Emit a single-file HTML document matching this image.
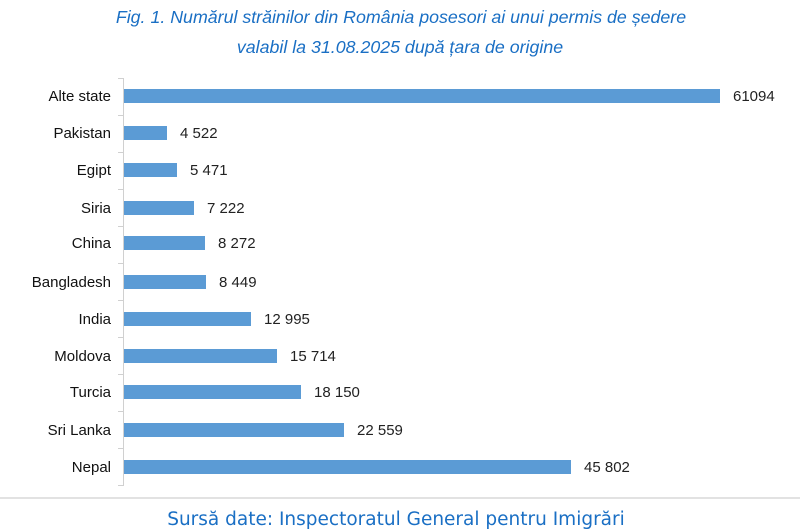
<!DOCTYPE html>
<html><head><meta charset="utf-8"><style>
body{margin:0;background:#fff;}
svg{display:block;}
</style></head><body>
<svg width="800" height="531" xmlns="http://www.w3.org/2000/svg">
<g font-family="Liberation Sans, DejaVu Sans, sans-serif" font-style="italic" font-size="17.8" fill="#1a6fc4" text-anchor="middle">
<text x="401" y="23">Fig. 1. Numărul străinilor din România posesori ai unui permis de ședere</text>
<text x="400" y="53">valabil la 31.08.2025 după țara de origine</text>
</g>
<line x1="123.5" y1="78" x2="123.5" y2="486" stroke="#d0d0d0" stroke-width="1"/>
<g stroke="#d0d0d0">
<line x1="118" y1="78.5" x2="123" y2="78.5"/><line x1="118" y1="115.5" x2="123" y2="115.5"/><line x1="118" y1="152.5" x2="123" y2="152.5"/><line x1="118" y1="189.5" x2="123" y2="189.5"/><line x1="118" y1="226.5" x2="123" y2="226.5"/><line x1="118" y1="263.5" x2="123" y2="263.5"/><line x1="118" y1="300.5" x2="123" y2="300.5"/><line x1="118" y1="337.5" x2="123" y2="337.5"/><line x1="118" y1="374.5" x2="123" y2="374.5"/><line x1="118" y1="411.5" x2="123" y2="411.5"/><line x1="118" y1="448.5" x2="123" y2="448.5"/><line x1="118" y1="485.5" x2="123" y2="485.5"/>
</g>
<g fill="#5b9bd5">
<rect x="124" y="89" width="596" height="14"/>
<rect x="124" y="126" width="43" height="14"/>
<rect x="124" y="163" width="53" height="14"/>
<rect x="124" y="201" width="70" height="14"/>
<rect x="124" y="236" width="81" height="14"/>
<rect x="124" y="275" width="82" height="14"/>
<rect x="124" y="312" width="127" height="14"/>
<rect x="124" y="349" width="153" height="14"/>
<rect x="124" y="385" width="177" height="14"/>
<rect x="124" y="423" width="220" height="14"/>
<rect x="124" y="460" width="447" height="14"/>
</g>
<g font-family="Liberation Sans, sans-serif" font-size="15" fill="#111" text-anchor="end">
<text x="111" y="101">Alte state</text>
<text x="111" y="138">Pakistan</text>
<text x="111" y="175">Egipt</text>
<text x="111" y="213">Siria</text>
<text x="111" y="248">China</text>
<text x="111" y="287">Bangladesh</text>
<text x="111" y="324">India</text>
<text x="111" y="361">Moldova</text>
<text x="111" y="397">Turcia</text>
<text x="111" y="435">Sri Lanka</text>
<text x="111" y="472">Nepal</text>
</g>
<g font-family="Liberation Sans, sans-serif" font-size="15" fill="#222">
<text x="733" y="101">61094</text>
<text x="180" y="138">4 522</text>
<text x="190" y="175">5 471</text>
<text x="207" y="213">7 222</text>
<text x="218" y="248">8 272</text>
<text x="219" y="287">8 449</text>
<text x="264" y="324">12 995</text>
<text x="290" y="361">15 714</text>
<text x="314" y="397">18 150</text>
<text x="357" y="435">22 559</text>
<text x="584" y="472">45 802</text>
</g>
<line x1="0" y1="498" x2="800" y2="498" stroke="#d8d8d8" stroke-width="1.5"/>
<text x="396" y="525" font-family="DejaVu Sans, Liberation Sans, sans-serif" font-size="18.5" fill="#1a6fc4" text-anchor="middle">Sursă date: Inspectoratul General pentru Imigrări</text>
</svg>
</body></html>
